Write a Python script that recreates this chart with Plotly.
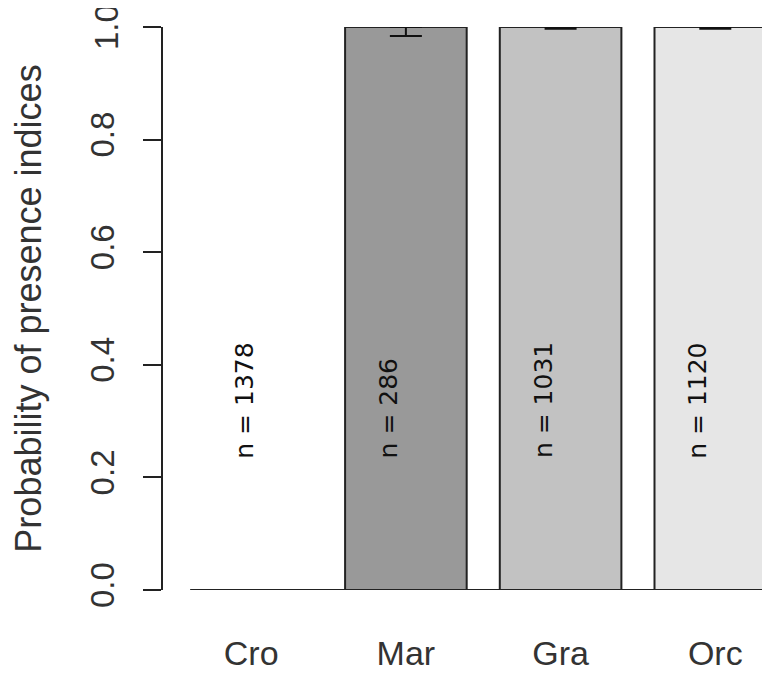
import plotly.graph_objects as go

categories = ["Cro", "Mar", "Gra", "Orc"]
values = [0.0, 1.0, 1.0, 1.0]
err_minus = [0.0, 0.016, 0.003, 0.003]
n_labels = ["n = 1378", "n = 286", "n = 1031", "n = 1120"]
bar_colors = ["#ffffff", "#999999", "#c2c2c2", "#e6e6e6"]
y_ticks = [0.0, 0.2, 0.4, 0.6, 0.8, 1.0]
y_ticktext = ["0.0", "0.2", "0.4", "0.6", "0.8", "1.0"]

xpos = list(range(len(categories)))
bar_width = 0.786

# the page body has an 8px margin, so the figure is 8px smaller and margins compensate
OFF = 8
TICKFONT = 33

fig = go.Figure()
fig.add_trace(go.Bar(
    x=xpos, y=values, width=bar_width,
    marker=dict(color=bar_colors, line=dict(color="#222222", width=2)),
    error_y=dict(type="data", symmetric=False, array=[0]*4, arrayminus=err_minus,
                 color="#111111", thickness=2, width=16),
    cliponaxis=False, showlegend=False,
))

# baseline at zero across bars
fig.add_shape(type="line", xref="x", yref="y", x0=xpos[0] - bar_width/2, x1=xpos[-1] + bar_width/2,
              y0=0, y1=0, line=dict(color="#222222", width=2))

xshifts = [-7, -17, -17, -18]
for i, t in enumerate(n_labels):
    fig.add_annotation(x=xpos[i], y=0.23, text=t, textangle=-90, showarrow=False,
                       xanchor="center", yanchor="bottom", xshift=xshifts[i],
                       font=dict(family="DejaVu Sans", size=25, color="#111111"))

# top tick label (plotly hides it since it overflows the page top), drawn as text
fig.add_annotation(xref="paper", yref="y", x=0, y=y_ticks[-1], text=y_ticktext[-1],
                   textangle=-90, showarrow=False, xanchor="center", yanchor="middle",
                   xshift=-57, font=dict(family="Liberation Sans", size=TICKFONT, color="#333333"))

fig.update_layout(
    width=770 - OFF, height=675 - OFF,
    margin=dict(l=163 - OFF, r=0, t=27 - OFF, b=85, autoexpand=False),
    plot_bgcolor="white", paper_bgcolor="white",
    font=dict(family="Liberation Sans", size=34, color="#333333"),
    xaxis=dict(range=[-0.570, 3.406 - OFF / 152.67], tickvals=xpos, ticktext=categories,
               showgrid=False, zeroline=False, showline=False, ticks="",
               ticklabelstandoff=40, tickfont=dict(size=34, color="#333333"), automargin=False),
    yaxis=dict(range=[0, 1], tickvals=y_ticks, ticktext=y_ticktext, tickangle=-90,
               showgrid=False, zeroline=False, showline=True, linecolor="#222222", linewidth=2,
               ticks="outside", ticklen=18, tickwidth=2, tickcolor="#222222",
               ticklabelstandoff=16, tickfont=dict(size=TICKFONT, color="#333333"), automargin=False,
               title=dict(text="Probability of presence indices", standoff=38,
                          font=dict(size=36, color="#333333"))),
)

fig.write_html("out.html")
